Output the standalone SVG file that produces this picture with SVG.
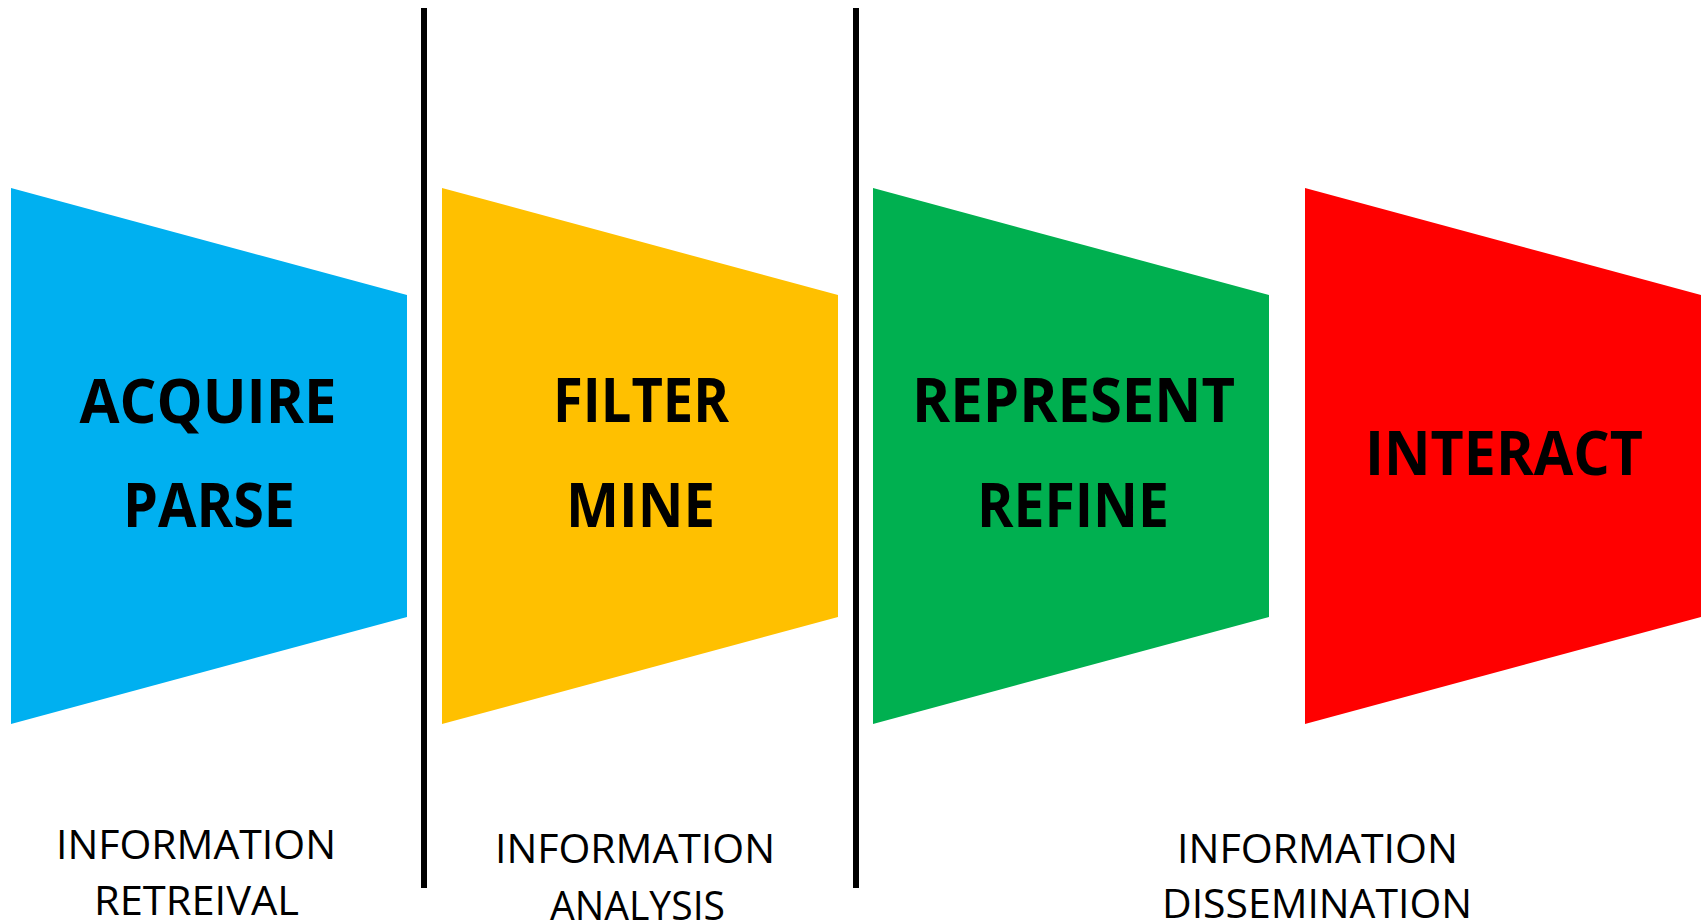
<svg xmlns="http://www.w3.org/2000/svg" width="1701" height="924" viewBox="0 0 1701 924">
<style>
.big{font-family:"Open Sans","Noto Sans","Liberation Sans",sans-serif;font-weight:bold;font-size:61px;fill:#000;text-anchor:middle}
.lbl{font-family:"Open Sans","Noto Sans","Liberation Sans",sans-serif;font-size:40px;fill:#000;text-anchor:middle}
.div{stroke:#000;stroke-width:6}
</style>
<rect width="1701" height="924" fill="#fff"/>
<g id="dividers">
<line class="div" x1="424" y1="8" x2="424" y2="888"/>
<line class="div" x1="856" y1="8" x2="856" y2="888"/>
</g>
<g id="stage-acquire">
<polygon points="11,188 407,295 407,617 11,724" fill="#00B0F0"/>
<text class="big" x="208" y="423" textLength="257" lengthAdjust="spacingAndGlyphs">ACQUIRE</text>
<text class="big" x="209" y="527" textLength="172" lengthAdjust="spacingAndGlyphs">PARSE</text>
</g>
<g id="stage-filter">
<polygon points="442,188 838,295 838,617 442,724" fill="#FFC000"/>
<text class="big" x="641" y="422" textLength="176" lengthAdjust="spacingAndGlyphs">FILTER</text>
<text class="big" x="640.5" y="527" textLength="149" lengthAdjust="spacingAndGlyphs">MINE</text>
</g>
<g id="stage-represent">
<polygon points="873,188 1269,295 1269,617 873,724" fill="#00B050"/>
<text class="big" x="1073.5" y="422" textLength="323" lengthAdjust="spacingAndGlyphs">REPRESENT</text>
<text class="big" x="1073" y="527" textLength="192" lengthAdjust="spacingAndGlyphs">REFINE</text>
</g>
<g id="stage-interact">
<polygon points="1305,188 1701,295 1701,617 1305,724" fill="#FF0000"/>
<text class="big" x="1504" y="475" textLength="278" lengthAdjust="spacingAndGlyphs">INTERACT</text>
</g>
<g id="label-retrieval">
<text class="lbl" x="196" y="859" textLength="280" lengthAdjust="spacingAndGlyphs">INFORMATION</text>
<text class="lbl" x="196.5" y="915" textLength="205" lengthAdjust="spacingAndGlyphs">RETREIVAL</text>
</g>
<g id="label-analysis">
<text class="lbl" x="635" y="863" textLength="280" lengthAdjust="spacingAndGlyphs">INFORMATION</text>
<text class="lbl" x="637.5" y="920" textLength="175" lengthAdjust="spacingAndGlyphs">ANALYSIS</text>
</g>
<g id="label-dissemination">
<text class="lbl" x="1317.5" y="863" textLength="281" lengthAdjust="spacingAndGlyphs">INFORMATION</text>
<text class="lbl" x="1317" y="918" textLength="310" lengthAdjust="spacingAndGlyphs">DISSEMINATION</text>
</g>
</svg>
